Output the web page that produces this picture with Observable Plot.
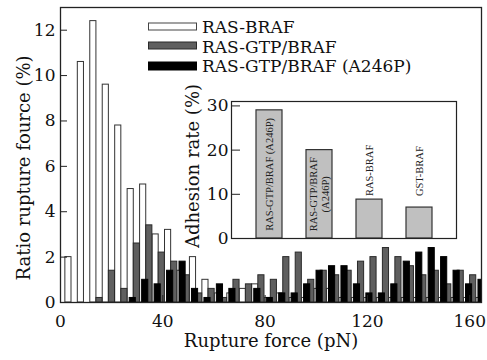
<!DOCTYPE html>
<html><head><meta charset="utf-8">
<script src="https://cdn.jsdelivr.net/npm/d3@7"></script>
<script src="https://cdn.jsdelivr.net/npm/@observablehq/plot@0.6"></script>
<style>
body{margin:0;background:#fff;}
#wrap{position:relative;width:487px;height:360px;font-family:"DejaVu Serif",serif;overflow:hidden;}
#wrap > *{position:absolute;}
</style></head><body><div id="wrap"></div>
<script>
// ---- data ----
const seriesNames = ["RAS-BRAF", "RAS-GTP/BRAF", "RAS-GTP/BRAF (A246P)"];
const binStart = 1.9;      // left edge of first bin (pN)
const binWidth = 4.87;     // bin width (pN)
const rasBraf      = [2.0,10.6,12.4,9.6,7.8,5.0,5.2,3.0,3.2,1.4,2.0,1.0,0.4,0.4,0.6,0.8,0.2,0.4,0.2,0.2,0.6,0.6,0.2,0.2,0.2,0.2,0.2,0.2,0.2,0.2,0.2,0.2,0.2,0.2];
const rasGtp       = [0,0,0.2,1.4,0.6,2.6,3.4,2.2,1.8,1.2,0.4,0.6,0.2,1.0,0.8,1.2,1.0,2.0,2.2,1.0,1.4,1.2,1.4,1.8,2.0,2.4,2.0,1.6,1.2,1.4,0.8,1.4,1.2,1.0];
const rasGtpA246P  = [0,0,0,0,0,0.2,1.0,0.8,1.4,1.8,0.6,0.2,0.8,0.6,0,0.6,0.2,0.4,0.4,0.8,1.4,1.6,1.6,0.8,0.4,0.4,0.8,1.8,2.2,2.4,2.0,1.4,0.8,1.0];
const xTicks = [0, 40, 80, 120, 160];
const yTicks = [0, 2, 4, 6, 8, 10, 12];

const insetLabels = ["RAS-GTP/BRAF (A246P)", "RAS-GTP/BRAF\n(A246P)", "RAS-BRAF", "GST-BRAF"];
const insetValues = [29, 20, 8.8, 7];
const insetTicks = [0, 10, 20, 30];

// ---- layout / style ----
const barOffset = [0, 2.4, 0.8];   // white, gray, black offset within bin (pN)
const barW = 2.4;
const fills = ["#ffffff", "#5f5f5f", "#000000"];
const strokes = ["#333", "#2a2a2a", "#000"];
const serie = [rasBraf, rasGtp, rasGtpA246P];

function rowsFor(s) {
  return serie[s].map((v, i) => {
    const x1 = binStart + i * binWidth + barOffset[s];
    return {x1, x2: x1 + barW, v};
  });
}

const W = 487, H = 360;
const mL = 60, mR = 6, mT = 7, mB = 58;
const pw = W - mL - mR, ph = H - mT - mB;

const main = Plot.plot({
  width: W, height: H,
  marginLeft: mL, marginRight: mR, marginTop: mT, marginBottom: mB,
  x: {domain: [0, 164.6], label: null},
  y: {domain: [0, 13], label: null},
  style: {fontFamily: "DejaVu Serif", fontSize: "17px", background: "transparent", color: "#111", overflow: "visible"},
  marks: [
    ...[0, 1, 2].map(s => Plot.rect(rowsFor(s), {x1: "x1", x2: "x2", y1: 0, y2: "v", fill: fills[s], stroke: strokes[s], strokeWidth: 1, clip: true})),
    Plot.frame({stroke: "#222", strokeWidth: 1.3}),
    Plot.tickX(xTicks, {x: d => d, insetTop: ph - 7, stroke: "#222"}),
    Plot.tickY(yTicks, {y: d => d, insetRight: pw - 7, stroke: "#222"}),
    Plot.axisX(xTicks, {tickSize: 0, tickPadding: 12, fontSize: 17, label: null}),
    Plot.axisY(yTicks, {tickSize: 0, tickPadding: 5, fontSize: 17, label: null}),
    Plot.text(["Rupture force (pN)"], {text: d => d, frameAnchor: "bottom", dy: 44, fontSize: 18}),
    Plot.text(["Ratio rupture fource (%)"], {text: d => d, frameAnchor: "left", textAnchor: "middle", dx: -36, dy: 13, rotate: -90, fontSize: 18})
  ]
});
main.style.left = "0px"; main.style.top = "0px";

// inset
const iLeft = 175, iTop = 90;
const imL = 56, imR = 1, imT = 11, imB = 1;
const iW = 282, iH = 149;
const ipw = iW - imL - imR;
const insetRows = insetValues.map((v, k) => ({k, v, label: insetLabels[k]}));
const inset = Plot.plot({
  width: iW, height: iH,
  marginLeft: imL, marginRight: imR, marginTop: imT, marginBottom: imB,
  x: {domain: d3.range(insetValues.length), padding: 0.48, axis: null},
  y: {domain: [0, 31], label: null, axis: null},
  style: {fontFamily: "DejaVu Serif", fontSize: "17px", background: "transparent", color: "#111", overflow: "visible"},
  marks: [
    Plot.frame({fill: "white"}),
    Plot.barY(insetRows, {x: "k", y: "v", fill: "#c0c0c0", stroke: "#333", strokeWidth: 1.2}),
    Plot.text(insetRows.filter(d => d.k < 2), {x: "k", y: d => d.v / 2, text: "label", rotate: -90, fontFamily: "Liberation Serif", fontSize: 10.5, lineHeight: 1.1, fill: "#222"}),
    Plot.text(insetRows.filter(d => d.k >= 2), {x: "k", y: 9.6, text: "label", rotate: -90, textAnchor: "start", fontFamily: "Liberation Serif", fontSize: 10.5, fill: "#222"}),
    Plot.frame({stroke: "#222", strokeWidth: 1.2}),
    Plot.tickY(insetTicks, {y: d => d, insetRight: ipw - 9, stroke: "#222"}),
    Plot.axisY(insetTicks, {tickSize: 0, tickPadding: 3, fontSize: 17, label: null}),
    Plot.text(["Adhesion rate (%)"], {text: d => d, frameAnchor: "left", textAnchor: "middle", dx: -38, dy: -4, rotate: -90, fontSize: 18})
  ]
});
inset.style.left = iLeft + "px"; inset.style.top = iTop + "px";

// legend
const leg = d3.create("svg").attr("width", 340).attr("height", 80)
  .style("left", "0px").style("top", "0px").style("overflow", "visible");
const legRows = [
  {y: 23, h: 7, base: 33},
  {y: 42, h: 7, base: 53},
  {y: 62, h: 8, base: 72}
];
seriesNames.forEach((name, s) => {
  const r = legRows[s];
  leg.append("rect").attr("x", 148.5).attr("y", r.y).attr("width", 48).attr("height", r.h)
    .attr("fill", fills[s]).attr("stroke", s === 0 ? "#444" : strokes[s]).attr("stroke-width", 1);
  leg.append("text").attr("x", 202).attr("y", r.base).attr("font-family", "DejaVu Serif")
    .attr("font-size", 17).attr("fill", "#111").text(name);
});

const wrap = document.getElementById("wrap");
wrap.appendChild(main);
wrap.appendChild(inset);
wrap.appendChild(leg.node());
</script></body></html>
